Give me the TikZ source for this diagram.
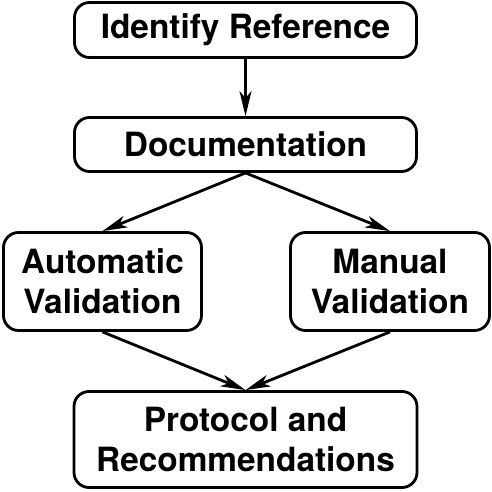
\documentclass[tikz,border=0pt]{standalone}
\usepackage{fontspec}
\setmainfont{TeX Gyre Heros}
\usetikzlibrary{arrows.meta}
\tikzset{box/.style={draw, line width=1.6pt, rounded corners=.3cm, align=center, font=\fontsize{19}{22.8}\selectfont\bfseries, inner sep=0pt}}
\begin{document}
\begin{tikzpicture}[>={Stealth[length=.5cm, width=.24cm, inset=.14cm]}, line width=1.6pt]
\useasboundingbox (0,0) rectangle (9.84,9.84);
\node[box, minimum width=6.84cm, minimum height=1.1cm](ident) at (4.91,9.24){Identify Reference};
\node[box, minimum width=6.84cm, minimum height=1.08cm](doc) at (4.91,6.95){Documentation};
\node[box, minimum width=3.96cm, minimum height=1.96cm](auto) at (2.05,4.21){Automatic\\Validation};
\node[box, minimum width=3.98cm, minimum height=1.96cm](manual) at (7.8,4.21){Manual\\Validation};
\node[box, minimum width=6.86cm, minimum height=1.92cm](proto) at (4.91,1.05){Protocol and\\Recommendations};
\draw[->](ident)--(doc);
\draw[->](doc.south)--(auto.north);
\draw[->](doc.south)--(manual.north);
\draw[->](auto.south)--(proto.north);
\draw[->](manual.south)--(proto.north);
\end{tikzpicture}
\end{document}
